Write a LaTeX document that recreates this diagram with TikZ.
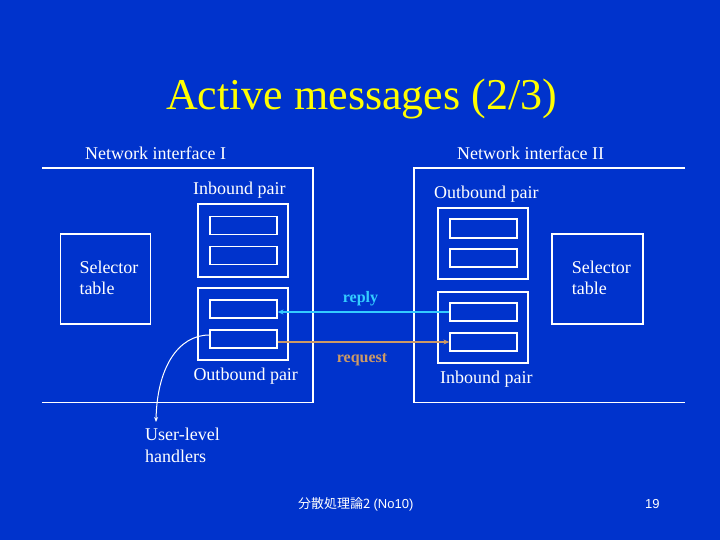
\documentclass[tikz,border=0pt]{standalone}
\usepackage{fontspec}
\setmainfont{Liberation Serif}
\newfontfamily\cjkfont{Noto Sans CJK JP}
\newfontfamily\footsans{Liberation Sans}
\usetikzlibrary{arrows.meta}
\definecolor{bgblue}{RGB}{0,51,204}
\definecolor{replycol}{RGB}{51,204,255}
\definecolor{reqcol}{RGB}{204,153,102}
\definecolor{titlecol}{RGB}{255,255,0}
\tikzset{
  wline/.style={draw=white, line width=1.2pt},
  box/.style={draw=white, line width=1.2pt, inner sep=0pt, minimum width=90pt},
  cell/.style={draw=white, line width=1.2pt, inner sep=0pt, minimum width=67pt, minimum height=18pt},
  lbl/.style={text=white, inner sep=0pt, font=\fontsize{18}{21}\selectfont},
  msg/.style={inner sep=0pt, font=\fontsize{16}{19}\selectfont\bfseries},
  tip/.style={-{Stealth[length=6pt,width=5pt]}},
}
\begin{document}
\begin{tikzpicture}[x=1pt,y=-1pt]
\fill[bgblue] (0,0) rectangle (720,540);
\useasboundingbox (0,0) rectangle (720,540);

% title
\node[anchor=base, inner sep=0pt, text=titlecol, font=\fontsize{44}{50}\selectfont] (title) at (361.5,109.3) {Active messages (2/3)};

% interface outlines
\draw[wline] (42,168) -- (313,168) -- (313,402.5) -- (42,402.5);
\draw[wline] (685,168) -- (414,168) -- (414,402.5) -- (685,402.5);

\node[lbl, anchor=base west] (ni1) at (85,159.5) {Network interface I};
\node[lbl, anchor=base west] (ni2) at (457,159.5) {Network interface II};

% left side
\node[box, minimum height=90pt] (lsel) at (105.7,279) {};
\node[lbl, anchor=base west] (lselt1) at (79.3,273.3) {Selector};
\node[lbl, anchor=base west] (lselt2) at (79.3,294) {table};

\node[box, minimum height=73pt] (lip) at (243,240.5) {};
\node[cell] (lip1) at (243.5,225.6) {};
\node[cell] (lip2) at (243.5,255.7) {};
\node[lbl, anchor=base west] (lipt) at (193,195) {Inbound pair};

\node[box, minimum height=72pt] (lop) at (243,324) {};
\node[cell] (lop1) at (243.5,309) {};
\node[cell] (lop2) at (243.5,339) {};
\node[lbl, anchor=base west] (lopt) at (193.3,380.7) {Outbound pair};

% right side
\node[box, minimum width=91pt, minimum height=90pt] (rsel) at (597.5,279) {};
\node[lbl, anchor=base west] (rselt1) at (571.7,273.3) {Selector};
\node[lbl, anchor=base west] (rselt2) at (571.7,294) {table};

\node[box, minimum height=71pt] (rop) at (483,243.5) {};
\node[cell, minimum height=19pt] (rop1) at (483.5,228.5) {};
\node[cell] (rop2) at (483.5,258) {};
\node[lbl, anchor=base west] (ropt) at (434,198.3) {Outbound pair};

\node[box, minimum height=71pt] (rip) at (483,327.5) {};
\node[cell] (rip1) at (483.5,312) {};
\node[cell] (rip2) at (483.5,342) {};
\node[lbl, anchor=base west] (ript) at (440,383.3) {Inbound pair};

% messages
\draw[tip, draw=replycol, fill=replycol, line width=1.8pt] (rip1.west) -- (rip1.west -| lop1.east);
\draw[tip, draw=reqcol, fill=reqcol, line width=1.8pt] (rip2.west -| lop2.east) -- (rip2.west);
\node[msg, text=replycol, anchor=base west] (replyt) at (342.7,302.7) {reply};
\node[msg, text=reqcol, anchor=base west] (reqt) at (336.7,362.7) {request};

% user-level handlers
\node[lbl, anchor=base west] (uh1) at (145,440) {User-level};
\node[lbl, anchor=base west] (uh2) at (145,462.7) {handlers};
\coordinate (uhend) at (156,422);
\draw[white, line width=1pt, -{Stealth[length=5pt,width=4pt]}] ([yshift=4pt]lop2.west) .. controls (178,335) and (157,368) .. (uhend);

% footer
\node[anchor=base west, inner sep=0pt, text=white, font=\fontsize{13}{15}\selectfont] (foot) at (298,508) {{\cjkfont 分散処理論2} {\footsans (No10)}};
\node[anchor=base west, inner sep=0pt, text=white, font=\fontsize{13}{15}\selectfont\footsans] (page) at (645,508) {19};
\end{tikzpicture}
\end{document}
